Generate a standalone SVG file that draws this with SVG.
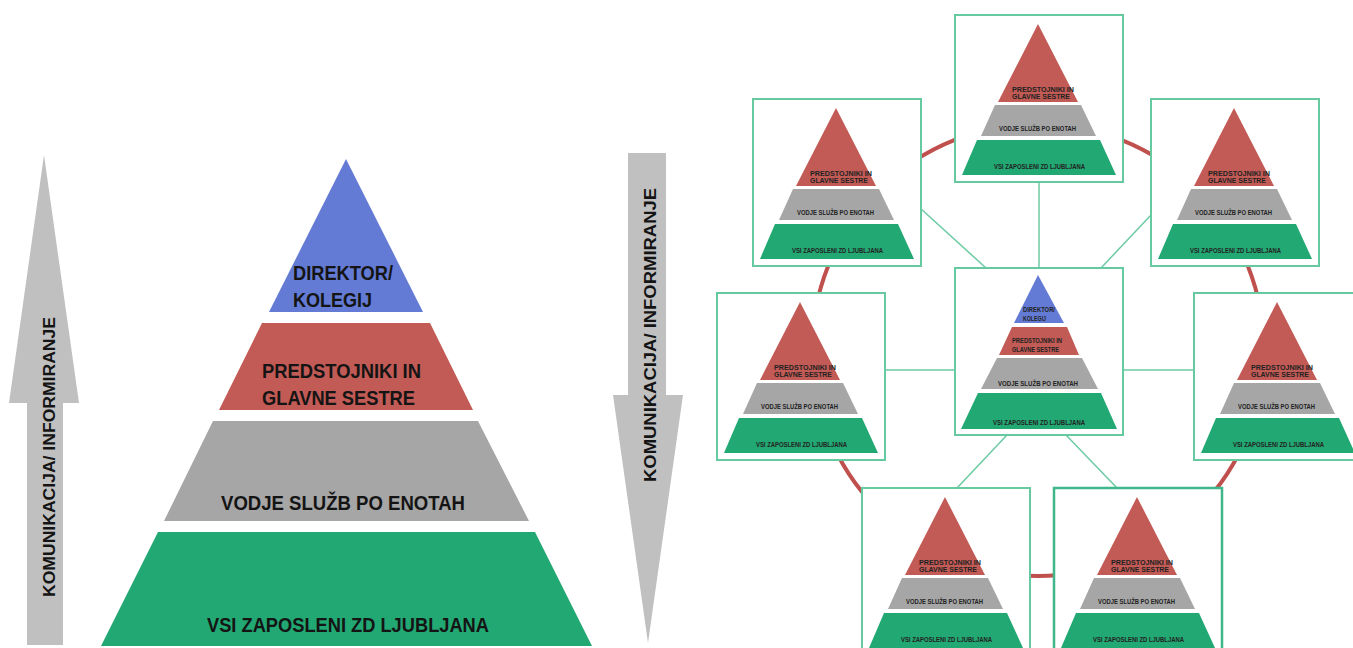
<svg xmlns="http://www.w3.org/2000/svg" xmlns:xlink="http://www.w3.org/1999/xlink" width="1353" height="648" viewBox="0 0 1353 648">
<style>
.t{font-family:"Liberation Sans",Arial,sans-serif;font-weight:bold;fill:#141414}
.big{font-size:21px}
.arr{font-size:17px}
.mini{font-size:6.8px;fill:#222}
.blue{fill:#637bd4}
.red{fill:#c25a55}
.grey{fill:#a6a6a6}
.green{fill:#22a873}
.arrow{fill:#c0c0c0}
.box{fill:#fff;stroke:#66c9a0;stroke-width:2}
.ring{fill:none;stroke:#c0504d;stroke-width:4}
.link{stroke:#6ccba3;stroke-width:1.5;fill:none}
</style>
<defs>
<g id="mini3">
<polygon class="red" points="83,9 123,87 43,87"/>
<polygon class="grey" points="40,90 126,90 141,121 26,121"/>
<polygon class="green" points="22,125 145,125 161,160 7,160"/>
<text class="t mini" x="57" y="77" textLength="62" lengthAdjust="spacingAndGlyphs">PREDSTOJNIKI IN</text>
<text class="t mini" x="57" y="84" textLength="58" lengthAdjust="spacingAndGlyphs">GLAVNE SESTRE</text>
<text class="t mini" x="44" y="116" textLength="77" lengthAdjust="spacingAndGlyphs">VODJE SLUŽB PO ENOTAH</text>
<text class="t mini" x="39" y="154" textLength="91" lengthAdjust="spacingAndGlyphs">VSI ZAPOSLENI ZD LJUBLJANA</text>
</g>
</defs>

<g id="arrow-up">
<polygon class="arrow" points="44,155 79,403 63,403 63,645 27,645 27,403 9,403"/>
<text class="t arr" transform="translate(55,457) rotate(-90)" text-anchor="middle" textLength="280" lengthAdjust="spacingAndGlyphs">KOMUNIKACIJA/ INFORMIRANJE</text>
</g>

<g id="big-pyramid">
<polygon class="blue" points="346,159 423,312 269,312"/>
<polygon class="red" points="262,323 430,323 473,410 219,410"/>
<polygon class="grey" points="213,421 478,421 529,521 164,521"/>
<polygon class="green" points="158,532 535,532 592,646 101,646"/>
<text class="t big" x="293" y="280" textLength="100" lengthAdjust="spacingAndGlyphs">DIREKTOR/</text>
<text class="t big" x="293" y="307" textLength="79" lengthAdjust="spacingAndGlyphs">KOLEGIJ</text>
<text class="t big" x="262" y="378" textLength="159" lengthAdjust="spacingAndGlyphs">PREDSTOJNIKI IN</text>
<text class="t big" x="262" y="405" textLength="153" lengthAdjust="spacingAndGlyphs">GLAVNE SESTRE</text>
<text class="t big" x="221" y="510" textLength="244" lengthAdjust="spacingAndGlyphs">VODJE SLUŽB PO ENOTAH</text>
<text class="t big" x="207" y="632" textLength="282" lengthAdjust="spacingAndGlyphs">VSI ZAPOSLENI ZD LJUBLJANA</text>
</g>

<g id="arrow-down">
<polygon class="arrow" points="628,153 666,153 666,395 683,395 648,643 613,395 628,395"/>
<text class="t arr" transform="translate(656,335) rotate(-90)" text-anchor="middle" textLength="294" lengthAdjust="spacingAndGlyphs">KOMUNIKACIJA/ INFORMIRANJE</text>
</g>

<g id="connectors">
<circle class="ring" cx="1038" cy="350" r="226"/>
<line class="link" x1="1039" y1="182" x2="1039" y2="268"/>
<line class="link" x1="920" y1="208" x2="986" y2="268"/>
<line class="link" x1="1151" y1="215" x2="1101" y2="268"/>
<line class="link" x1="884" y1="370" x2="955" y2="370"/>
<line class="link" x1="1123" y1="370" x2="1194" y2="370"/>
<line class="link" x1="1007" y1="435" x2="957" y2="488"/>
<line class="link" x1="1066" y1="435" x2="1117" y2="488"/>
</g>

<g id="node-top" transform="translate(955,15)"><rect class="box" width="168" height="167"/><use href="#mini3" xlink:href="#mini3"/></g>
<g id="node-top-left" transform="translate(753,99)"><rect class="box" width="168" height="167"/><use href="#mini3" xlink:href="#mini3"/></g>
<g id="node-top-right" transform="translate(1151,99)"><rect class="box" width="168" height="167"/><use href="#mini3" xlink:href="#mini3"/></g>
<g id="node-mid-left" transform="translate(717,293)"><rect class="box" width="168" height="167"/><use href="#mini3" xlink:href="#mini3"/></g>
<g id="node-mid-right" transform="translate(1194,293)"><rect class="box" width="168" height="167"/><use href="#mini3" xlink:href="#mini3"/></g>
<g id="node-bottom-left" transform="translate(862,488)"><rect class="box" width="168" height="167"/><use href="#mini3" xlink:href="#mini3"/></g>
<g id="node-bottom-right" transform="translate(1054,488)"><rect class="box" width="168" height="167" style="stroke:#3fb78a;stroke-width:2.5"/><use href="#mini3" xlink:href="#mini3"/></g>

<g id="node-center" transform="translate(955,268)">
<rect class="box" x="0" y="0" width="168" height="167"/>
<polygon class="blue" points="83,7 109,55 59,55"/>
<polygon class="red" points="57,59 112,59 124,87 44,87"/>
<polygon class="grey" points="42,90 127,90 143,121 26,121"/>
<polygon class="green" points="23,125 146,125 162,161 6,161"/>
<text class="t mini" x="68" y="44" textLength="32" lengthAdjust="spacingAndGlyphs">DIREKTOR/</text>
<text class="t mini" x="68" y="53" textLength="23" lengthAdjust="spacingAndGlyphs">KOLEGIJ</text>
<text class="t mini" x="57" y="75" textLength="50" lengthAdjust="spacingAndGlyphs">PREDSTOJNIKI IN</text>
<text class="t mini" x="57" y="84" textLength="47" lengthAdjust="spacingAndGlyphs">GLAVNE SESTRE</text>
<text class="t mini" x="43" y="118" textLength="80" lengthAdjust="spacingAndGlyphs">VODJE SLUŽB PO ENOTAH</text>
<text class="t mini" x="38" y="157" textLength="92" lengthAdjust="spacingAndGlyphs">VSI ZAPOSLENI ZD LJUBLJANA</text>
</g>
</svg>
